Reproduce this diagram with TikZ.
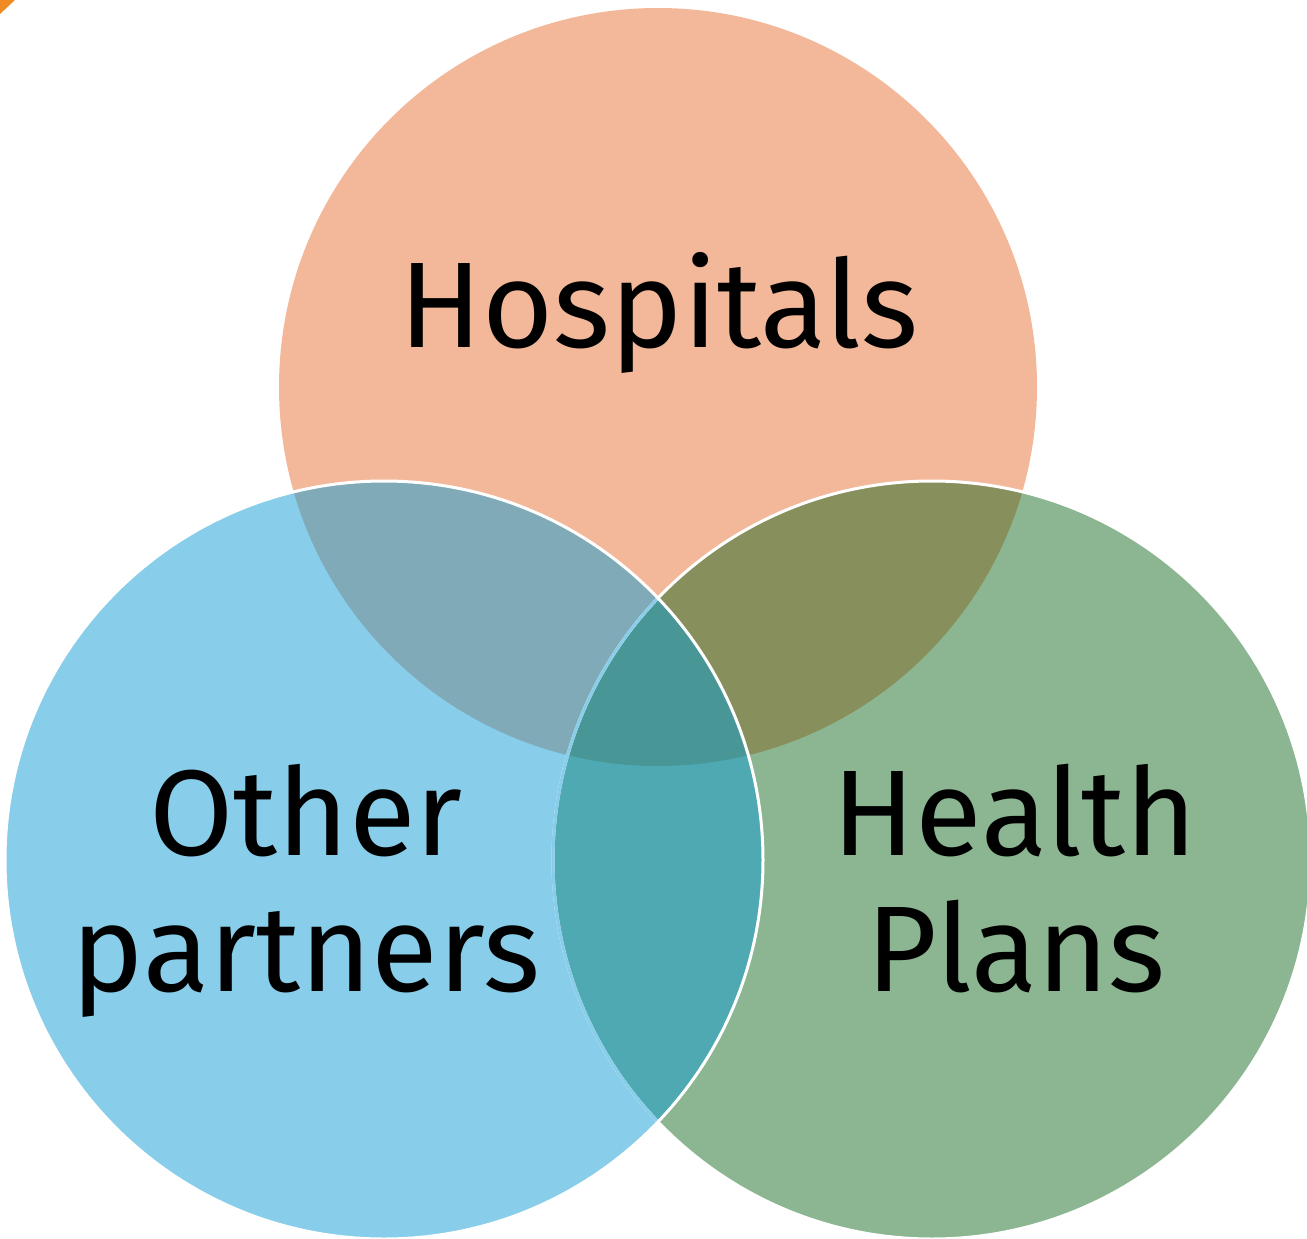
\documentclass[tikz,border=0pt]{standalone}
\usepackage{fontspec}
\setmainfont{Fira Sans}
\definecolor{cTop}{HTML}{F3B89A}
\definecolor{cLeft}{HTML}{88CDE9}
\definecolor{cRight}{HTML}{8CB591}
\definecolor{cTL}{HTML}{80AAB7}
\definecolor{cTR}{HTML}{878F5C}
\definecolor{cLR}{HTML}{4EA9B2}
\definecolor{cC}{HTML}{489696}
\definecolor{cOrange}{HTML}{F08A24}
\tikzset{
  lbl/.style={anchor=base, inner sep=0pt, text=black, font=\fontsize{121.9}{133}\selectfont},
  rim/.style={line width=3pt}
}
\begin{document}
\begin{tikzpicture}[x=1pt,y=-1pt]
\useasboundingbox (0,0) rectangle (1307,1239);
\coordinate (T) at (658,387);
\coordinate (L) at (384,860);
\coordinate (R) at (932,860);
\def\rr{379pt}
% corner fragment
\fill[cOrange] (0,0) -- (15,0) -- (0,14) -- cycle;
% circles
\fill[cTop] (T) circle[radius=\rr];
\fill[cLeft] (L) circle[radius=\rr];
\fill[cRight] (R) circle[radius=\rr];
% pairwise overlaps
\begin{scope}
  \clip (T) circle[radius=\rr];
  \fill[cTL] (L) circle[radius=\rr];
  \fill[cTR] (R) circle[radius=\rr];
\end{scope}
\begin{scope}
  \clip (L) circle[radius=\rr];
  \fill[cLR] (R) circle[radius=\rr];
  \clip (R) circle[radius=\rr];
  \fill[cC] (T) circle[radius=\rr];
\end{scope}
% outlines
\draw[rim, white] (R) circle[radius=\rr];
\begin{scope}
  \clip (L) circle[radius=\rr];
  \draw[rim, cLeft] (R) circle[radius=\rr];
\end{scope}
\draw[rim, white] (L) circle[radius=\rr];
% labels
\node[lbl] (hosp) at (659,347) {Hospitals};
\node[lbl] (other) at (306,855) {Other};
\node[lbl] (partners) at (306,991) {partners};
\node[lbl] (health) at (1015,855) {Health};
\node[lbl] (plans) at (1016,991) {Plans};
\end{tikzpicture}
\end{document}
